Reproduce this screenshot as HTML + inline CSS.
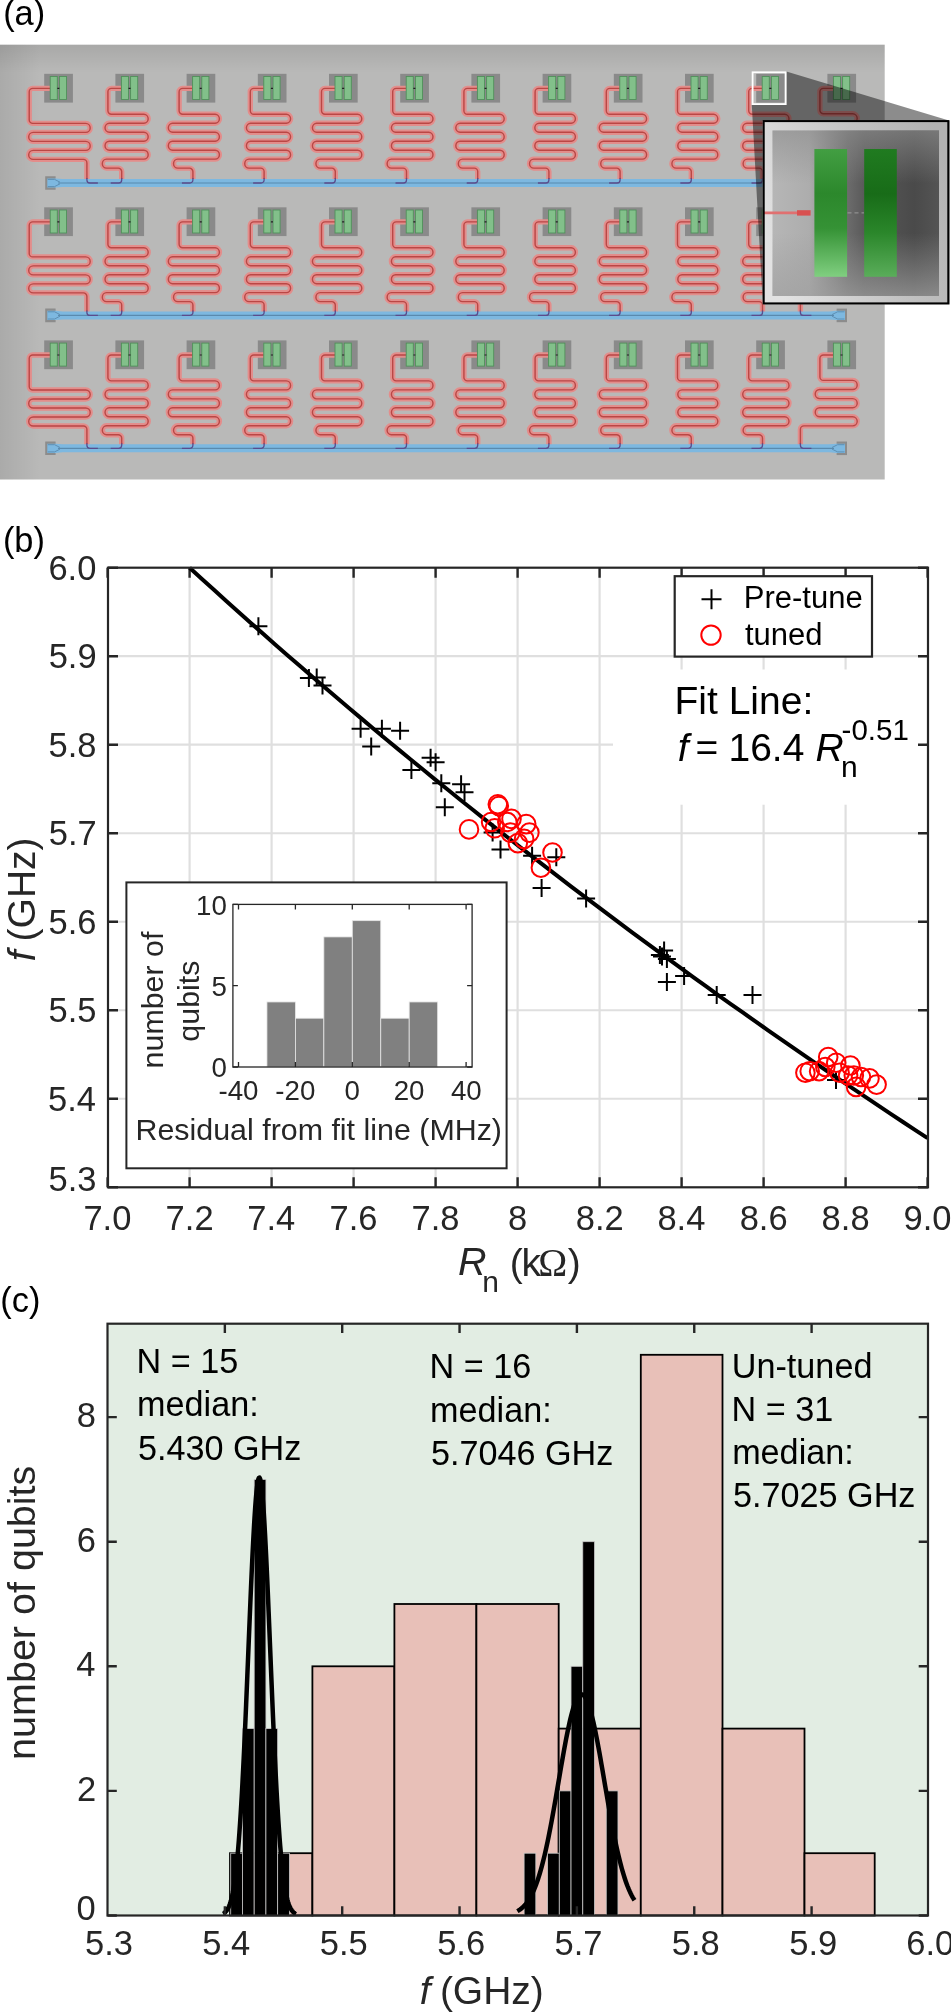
<!DOCTYPE html>
<html><head><meta charset="utf-8"><style>
html,body{margin:0;padding:0;background:#fff;}
svg{display:block;will-change:transform;}
text{font-family:"Liberation Sans", sans-serif;}
</style></head><body>
<svg width="951" height="2012" viewBox="0 0 951 2012">
<defs>
<filter id="soft" x="-2%" y="-2%" width="104%" height="104%"><feGaussianBlur stdDeviation="0.45"/></filter>
<linearGradient id="vtop" x1="0" y1="0" x2="0" y2="1"><stop offset="0" stop-color="#000" stop-opacity="0.09"/><stop offset="1" stop-color="#000" stop-opacity="0"/></linearGradient>
<linearGradient id="vleft" x1="0" y1="0" x2="1" y2="0"><stop offset="0" stop-color="#000" stop-opacity="0.08"/><stop offset="1" stop-color="#000" stop-opacity="0"/></linearGradient>
<linearGradient id="insetbg" x1="0" y1="0" x2="1" y2="0"><stop offset="0" stop-color="#b6b6b6"/><stop offset="0.22" stop-color="#adadad"/><stop offset="0.45" stop-color="#6c6c6c"/><stop offset="0.55" stop-color="#5a5a5a"/><stop offset="0.85" stop-color="#4a4a4a"/><stop offset="1" stop-color="#545454"/></linearGradient>
<linearGradient id="insetv" x1="0" y1="0" x2="0" y2="1"><stop offset="0" stop-color="#8e8e8e" stop-opacity="0.62"/><stop offset="0.32" stop-color="#8e8e8e" stop-opacity="0"/><stop offset="0.62" stop-color="#9a9a9a" stop-opacity="0"/><stop offset="1" stop-color="#a0a0a0" stop-opacity="0.7"/></linearGradient>
<linearGradient id="frame" x1="0" y1="0.6" x2="1" y2="0.3"><stop offset="0" stop-color="#e2e2e2"/><stop offset="0.6" stop-color="#c2c2c2"/><stop offset="1" stop-color="#b2b2b2"/></linearGradient>
<linearGradient id="gl" x1="0" y1="0" x2="0" y2="1"><stop offset="0" stop-color="#429e42"/><stop offset="0.35" stop-color="#2c882c"/><stop offset="0.62" stop-color="#359235"/><stop offset="1" stop-color="#80cf80"/></linearGradient>
<linearGradient id="gr" x1="0" y1="0" x2="0" y2="1"><stop offset="0" stop-color="#207b20"/><stop offset="0.35" stop-color="#186c18"/><stop offset="0.65" stop-color="#2a862a"/><stop offset="1" stop-color="#5aad5a"/></linearGradient>
</defs>
<rect x="0" y="44.7" width="884.7" height="434.8" fill="#b9b9b8"/>
<rect x="0" y="44.7" width="884.7" height="28" fill="url(#vtop)"/>
<rect x="0" y="44.7" width="40" height="434.8" fill="url(#vleft)"/>
<g filter="url(#soft)">
<rect x="44.20" y="73.80" width="28.7" height="28.8" fill="#8a8a8a"/>
<rect x="115.40" y="73.80" width="28.7" height="28.8" fill="#8a8a8a"/>
<rect x="186.60" y="73.80" width="28.7" height="28.8" fill="#8a8a8a"/>
<rect x="257.80" y="73.80" width="28.7" height="28.8" fill="#8a8a8a"/>
<rect x="329.00" y="73.80" width="28.7" height="28.8" fill="#8a8a8a"/>
<rect x="400.20" y="73.80" width="28.7" height="28.8" fill="#8a8a8a"/>
<rect x="471.40" y="73.80" width="28.7" height="28.8" fill="#8a8a8a"/>
<rect x="542.60" y="73.80" width="28.7" height="28.8" fill="#8a8a8a"/>
<rect x="613.80" y="73.80" width="28.7" height="28.8" fill="#8a8a8a"/>
<rect x="685.00" y="73.80" width="28.7" height="28.8" fill="#8a8a8a"/>
<rect x="756.20" y="73.80" width="28.7" height="28.8" fill="#8a8a8a"/>
<rect x="827.40" y="73.80" width="28.7" height="28.8" fill="#8a8a8a"/>
<rect x="44.20" y="207.30" width="28.7" height="28.8" fill="#8a8a8a"/>
<rect x="115.40" y="207.30" width="28.7" height="28.8" fill="#8a8a8a"/>
<rect x="186.60" y="207.30" width="28.7" height="28.8" fill="#8a8a8a"/>
<rect x="257.80" y="207.30" width="28.7" height="28.8" fill="#8a8a8a"/>
<rect x="329.00" y="207.30" width="28.7" height="28.8" fill="#8a8a8a"/>
<rect x="400.20" y="207.30" width="28.7" height="28.8" fill="#8a8a8a"/>
<rect x="471.40" y="207.30" width="28.7" height="28.8" fill="#8a8a8a"/>
<rect x="542.60" y="207.30" width="28.7" height="28.8" fill="#8a8a8a"/>
<rect x="613.80" y="207.30" width="28.7" height="28.8" fill="#8a8a8a"/>
<rect x="685.00" y="207.30" width="28.7" height="28.8" fill="#8a8a8a"/>
<rect x="756.20" y="207.30" width="28.7" height="28.8" fill="#8a8a8a"/>
<rect x="827.40" y="207.30" width="28.7" height="28.8" fill="#8a8a8a"/>
<rect x="44.20" y="340.40" width="28.7" height="28.8" fill="#8a8a8a"/>
<rect x="115.40" y="340.40" width="28.7" height="28.8" fill="#8a8a8a"/>
<rect x="186.60" y="340.40" width="28.7" height="28.8" fill="#8a8a8a"/>
<rect x="257.80" y="340.40" width="28.7" height="28.8" fill="#8a8a8a"/>
<rect x="329.00" y="340.40" width="28.7" height="28.8" fill="#8a8a8a"/>
<rect x="400.20" y="340.40" width="28.7" height="28.8" fill="#8a8a8a"/>
<rect x="471.40" y="340.40" width="28.7" height="28.8" fill="#8a8a8a"/>
<rect x="542.60" y="340.40" width="28.7" height="28.8" fill="#8a8a8a"/>
<rect x="613.80" y="340.40" width="28.7" height="28.8" fill="#8a8a8a"/>
<rect x="685.00" y="340.40" width="28.7" height="28.8" fill="#8a8a8a"/>
<rect x="756.20" y="340.40" width="28.7" height="28.8" fill="#8a8a8a"/>
<rect x="827.40" y="340.40" width="28.7" height="28.8" fill="#8a8a8a"/>
<path d="M50.20 88.40H32.70A3.5 3.5 0 0 0 29.20 91.90V119.90A3.5 3.5 0 0 0 32.70 123.40H85.70A4.50 4.50 0 0 1 85.70 132.40H33.20A4.50 4.50 0 0 0 33.20 141.40H85.70A4.50 4.50 0 0 1 85.70 150.40H33.20A4.50 4.50 0 0 0 33.20 159.40H83.40A3.5 3.5 0 0 1 86.90 162.90V181.00M121.40 88.40H111.40A3.5 3.5 0 0 0 107.90 91.90V110.80A3.5 3.5 0 0 0 111.40 114.30H143.91A4.49 4.49 0 0 1 143.91 123.27H109.29A4.49 4.49 0 0 0 109.29 132.24H143.91A4.49 4.49 0 0 1 143.91 141.21H109.29A4.49 4.49 0 0 0 109.29 150.18H143.91A4.49 4.49 0 0 1 143.91 159.15H106.59A4.49 4.49 0 0 0 106.59 168.12H118.20A3.5 3.5 0 0 1 121.70 171.62V181.00M192.60 88.40H182.60A3.5 3.5 0 0 0 179.10 91.90V110.80A3.5 3.5 0 0 0 182.60 114.30H215.12A4.49 4.49 0 0 1 215.12 123.27H172.59A4.49 4.49 0 0 0 172.59 132.24H215.12A4.49 4.49 0 0 1 215.12 141.21H172.59A4.49 4.49 0 0 0 172.59 150.18H215.12A4.49 4.49 0 0 1 215.12 159.15H177.79A4.49 4.49 0 0 0 177.79 168.12H189.40A3.5 3.5 0 0 1 192.90 171.62V181.00M263.80 88.40H253.80A3.5 3.5 0 0 0 250.30 91.90V110.80A3.5 3.5 0 0 0 253.80 114.30H286.31A4.49 4.49 0 0 1 286.31 123.27H250.69A4.49 4.49 0 0 0 250.69 132.24H286.31A4.49 4.49 0 0 1 286.31 141.21H250.69A4.49 4.49 0 0 0 250.69 150.18H286.31A4.49 4.49 0 0 1 286.31 159.15H248.99A4.49 4.49 0 0 0 248.99 168.12H260.60A3.5 3.5 0 0 1 264.10 171.62V181.00M335.00 88.40H325.00A3.5 3.5 0 0 0 321.50 91.90V110.80A3.5 3.5 0 0 0 325.00 114.30H357.51A4.49 4.49 0 0 1 357.51 123.27H316.69A4.49 4.49 0 0 0 316.69 132.24H357.51A4.49 4.49 0 0 1 357.51 141.21H316.69A4.49 4.49 0 0 0 316.69 150.18H357.51A4.49 4.49 0 0 1 357.51 159.15H320.19A4.49 4.49 0 0 0 320.19 168.12H331.80A3.5 3.5 0 0 1 335.30 171.62V181.00M406.20 88.40H396.20A3.5 3.5 0 0 0 392.70 91.90V110.80A3.5 3.5 0 0 0 396.20 114.30H428.71A4.49 4.49 0 0 1 428.71 123.27H395.69A4.49 4.49 0 0 0 395.69 132.24H428.71A4.49 4.49 0 0 1 428.71 141.21H395.69A4.49 4.49 0 0 0 395.69 150.18H428.71A4.49 4.49 0 0 1 428.71 159.15H391.38A4.49 4.49 0 0 0 391.38 168.12H403.00A3.5 3.5 0 0 1 406.50 171.62V181.00M477.40 88.40H467.40A3.5 3.5 0 0 0 463.90 91.90V110.80A3.5 3.5 0 0 0 467.40 114.30H499.92A4.49 4.49 0 0 1 499.92 123.27H460.09A4.49 4.49 0 0 0 460.09 132.24H499.92A4.49 4.49 0 0 1 499.92 141.21H460.09A4.49 4.49 0 0 0 460.09 150.18H499.92A4.49 4.49 0 0 1 499.92 159.15H462.59A4.49 4.49 0 0 0 462.59 168.12H474.20A3.5 3.5 0 0 1 477.70 171.62V181.00M548.60 88.40H538.60A3.5 3.5 0 0 0 535.10 91.90V110.80A3.5 3.5 0 0 0 538.60 114.30H571.12A4.49 4.49 0 0 1 571.12 123.27H539.09A4.49 4.49 0 0 0 539.09 132.24H571.12A4.49 4.49 0 0 1 571.12 141.21H539.09A4.49 4.49 0 0 0 539.09 150.18H571.12A4.49 4.49 0 0 1 571.12 159.15H533.79A4.49 4.49 0 0 0 533.79 168.12H545.40A3.5 3.5 0 0 1 548.90 171.62V181.00M619.80 88.40H609.80A3.5 3.5 0 0 0 606.30 91.90V110.80A3.5 3.5 0 0 0 609.80 114.30H642.32A4.49 4.49 0 0 1 642.32 123.27H603.59A4.49 4.49 0 0 0 603.59 132.24H642.32A4.49 4.49 0 0 1 642.32 141.21H603.59A4.49 4.49 0 0 0 603.59 150.18H642.32A4.49 4.49 0 0 1 642.32 159.15H604.99A4.49 4.49 0 0 0 604.99 168.12H616.60A3.5 3.5 0 0 1 620.10 171.62V181.00M691.00 88.40H681.00A3.5 3.5 0 0 0 677.50 91.90V110.80A3.5 3.5 0 0 0 681.00 114.30H713.52A4.49 4.49 0 0 1 713.52 123.27H682.09A4.49 4.49 0 0 0 682.09 132.24H713.52A4.49 4.49 0 0 1 713.52 141.21H682.09A4.49 4.49 0 0 0 682.09 150.18H713.52A4.49 4.49 0 0 1 713.52 159.15H676.19A4.49 4.49 0 0 0 676.19 168.12H687.80A3.5 3.5 0 0 1 691.30 171.62V181.00M762.20 88.40H752.20A3.5 3.5 0 0 0 748.70 91.90V110.80A3.5 3.5 0 0 0 752.20 114.30H784.72A4.49 4.49 0 0 1 784.72 123.27H746.99A4.49 4.49 0 0 0 746.99 132.24H784.72A4.49 4.49 0 0 1 784.72 141.21H746.99A4.49 4.49 0 0 0 746.99 150.18H784.72A4.49 4.49 0 0 1 784.72 159.15H747.39A4.49 4.49 0 0 0 747.39 168.12H759.00A3.5 3.5 0 0 1 762.50 171.62V181.00M833.40 88.40H823.40A3.5 3.5 0 0 0 819.90 91.90V110.30A3.5 3.5 0 0 0 823.40 113.80H852.65A4.55 4.55 0 0 1 852.65 122.90H819.75A4.55 4.55 0 0 0 819.75 132.00H852.65A4.55 4.55 0 0 1 852.65 141.10H819.75A4.55 4.55 0 0 0 819.75 150.20H852.65A4.55 4.55 0 0 1 852.65 159.30H803.90A3.5 3.5 0 0 0 800.40 162.80V181.00M50.20 221.90H32.70A3.5 3.5 0 0 0 29.20 225.40V253.40A3.5 3.5 0 0 0 32.70 256.90H85.70A4.50 4.50 0 0 1 85.70 265.90H33.20A4.50 4.50 0 0 0 33.20 274.90H85.70A4.50 4.50 0 0 1 85.70 283.90H33.20A4.50 4.50 0 0 0 33.20 292.90H83.40A3.5 3.5 0 0 1 86.90 296.40V313.40M121.40 221.90H111.40A3.5 3.5 0 0 0 107.90 225.40V244.30A3.5 3.5 0 0 0 111.40 247.80H143.91A4.49 4.49 0 0 1 143.91 256.77H109.29A4.49 4.49 0 0 0 109.29 265.74H143.91A4.49 4.49 0 0 1 143.91 274.71H109.29A4.49 4.49 0 0 0 109.29 283.68H143.91A4.49 4.49 0 0 1 143.91 292.65H106.59A4.49 4.49 0 0 0 106.59 301.62H118.20A3.5 3.5 0 0 1 121.70 305.12V313.40M192.60 221.90H182.60A3.5 3.5 0 0 0 179.10 225.40V244.30A3.5 3.5 0 0 0 182.60 247.80H215.12A4.49 4.49 0 0 1 215.12 256.77H172.59A4.49 4.49 0 0 0 172.59 265.74H215.12A4.49 4.49 0 0 1 215.12 274.71H172.59A4.49 4.49 0 0 0 172.59 283.68H215.12A4.49 4.49 0 0 1 215.12 292.65H177.79A4.49 4.49 0 0 0 177.79 301.62H189.40A3.5 3.5 0 0 1 192.90 305.12V313.40M263.80 221.90H253.80A3.5 3.5 0 0 0 250.30 225.40V244.30A3.5 3.5 0 0 0 253.80 247.80H286.31A4.49 4.49 0 0 1 286.31 256.77H250.69A4.49 4.49 0 0 0 250.69 265.74H286.31A4.49 4.49 0 0 1 286.31 274.71H250.69A4.49 4.49 0 0 0 250.69 283.68H286.31A4.49 4.49 0 0 1 286.31 292.65H248.99A4.49 4.49 0 0 0 248.99 301.62H260.60A3.5 3.5 0 0 1 264.10 305.12V313.40M335.00 221.90H325.00A3.5 3.5 0 0 0 321.50 225.40V244.30A3.5 3.5 0 0 0 325.00 247.80H357.51A4.49 4.49 0 0 1 357.51 256.77H316.69A4.49 4.49 0 0 0 316.69 265.74H357.51A4.49 4.49 0 0 1 357.51 274.71H316.69A4.49 4.49 0 0 0 316.69 283.68H357.51A4.49 4.49 0 0 1 357.51 292.65H320.19A4.49 4.49 0 0 0 320.19 301.62H331.80A3.5 3.5 0 0 1 335.30 305.12V313.40M406.20 221.90H396.20A3.5 3.5 0 0 0 392.70 225.40V244.30A3.5 3.5 0 0 0 396.20 247.80H428.71A4.49 4.49 0 0 1 428.71 256.77H395.69A4.49 4.49 0 0 0 395.69 265.74H428.71A4.49 4.49 0 0 1 428.71 274.71H395.69A4.49 4.49 0 0 0 395.69 283.68H428.71A4.49 4.49 0 0 1 428.71 292.65H391.38A4.49 4.49 0 0 0 391.38 301.62H403.00A3.5 3.5 0 0 1 406.50 305.12V313.40M477.40 221.90H467.40A3.5 3.5 0 0 0 463.90 225.40V244.30A3.5 3.5 0 0 0 467.40 247.80H499.92A4.49 4.49 0 0 1 499.92 256.77H460.09A4.49 4.49 0 0 0 460.09 265.74H499.92A4.49 4.49 0 0 1 499.92 274.71H460.09A4.49 4.49 0 0 0 460.09 283.68H499.92A4.49 4.49 0 0 1 499.92 292.65H462.59A4.49 4.49 0 0 0 462.59 301.62H474.20A3.5 3.5 0 0 1 477.70 305.12V313.40M548.60 221.90H538.60A3.5 3.5 0 0 0 535.10 225.40V244.30A3.5 3.5 0 0 0 538.60 247.80H571.12A4.49 4.49 0 0 1 571.12 256.77H539.09A4.49 4.49 0 0 0 539.09 265.74H571.12A4.49 4.49 0 0 1 571.12 274.71H539.09A4.49 4.49 0 0 0 539.09 283.68H571.12A4.49 4.49 0 0 1 571.12 292.65H533.79A4.49 4.49 0 0 0 533.79 301.62H545.40A3.5 3.5 0 0 1 548.90 305.12V313.40M619.80 221.90H609.80A3.5 3.5 0 0 0 606.30 225.40V244.30A3.5 3.5 0 0 0 609.80 247.80H642.32A4.49 4.49 0 0 1 642.32 256.77H603.59A4.49 4.49 0 0 0 603.59 265.74H642.32A4.49 4.49 0 0 1 642.32 274.71H603.59A4.49 4.49 0 0 0 603.59 283.68H642.32A4.49 4.49 0 0 1 642.32 292.65H604.99A4.49 4.49 0 0 0 604.99 301.62H616.60A3.5 3.5 0 0 1 620.10 305.12V313.40M691.00 221.90H681.00A3.5 3.5 0 0 0 677.50 225.40V244.30A3.5 3.5 0 0 0 681.00 247.80H713.52A4.49 4.49 0 0 1 713.52 256.77H682.09A4.49 4.49 0 0 0 682.09 265.74H713.52A4.49 4.49 0 0 1 713.52 274.71H682.09A4.49 4.49 0 0 0 682.09 283.68H713.52A4.49 4.49 0 0 1 713.52 292.65H676.19A4.49 4.49 0 0 0 676.19 301.62H687.80A3.5 3.5 0 0 1 691.30 305.12V313.40M762.20 221.90H752.20A3.5 3.5 0 0 0 748.70 225.40V244.30A3.5 3.5 0 0 0 752.20 247.80H784.72A4.49 4.49 0 0 1 784.72 256.77H746.99A4.49 4.49 0 0 0 746.99 265.74H784.72A4.49 4.49 0 0 1 784.72 274.71H746.99A4.49 4.49 0 0 0 746.99 283.68H784.72A4.49 4.49 0 0 1 784.72 292.65H747.39A4.49 4.49 0 0 0 747.39 301.62H759.00A3.5 3.5 0 0 1 762.50 305.12V313.40M833.40 221.90H823.40A3.5 3.5 0 0 0 819.90 225.40V243.80A3.5 3.5 0 0 0 823.40 247.30H852.65A4.55 4.55 0 0 1 852.65 256.40H819.75A4.55 4.55 0 0 0 819.75 265.50H852.65A4.55 4.55 0 0 1 852.65 274.60H819.75A4.55 4.55 0 0 0 819.75 283.70H852.65A4.55 4.55 0 0 1 852.65 292.80H803.90A3.5 3.5 0 0 0 800.40 296.30V313.40M50.20 355.00H32.70A3.5 3.5 0 0 0 29.20 358.50V386.50A3.5 3.5 0 0 0 32.70 390.00H85.70A4.50 4.50 0 0 1 85.70 399.00H33.20A4.50 4.50 0 0 0 33.20 408.00H85.70A4.50 4.50 0 0 1 85.70 417.00H33.20A4.50 4.50 0 0 0 33.20 426.00H83.40A3.5 3.5 0 0 1 86.90 429.50V446.30M121.40 355.00H111.40A3.5 3.5 0 0 0 107.90 358.50V377.40A3.5 3.5 0 0 0 111.40 380.90H143.91A4.49 4.49 0 0 1 143.91 389.87H109.29A4.49 4.49 0 0 0 109.29 398.84H143.91A4.49 4.49 0 0 1 143.91 407.81H109.29A4.49 4.49 0 0 0 109.29 416.78H143.91A4.49 4.49 0 0 1 143.91 425.75H106.59A4.49 4.49 0 0 0 106.59 434.72H118.20A3.5 3.5 0 0 1 121.70 438.22V446.30M192.60 355.00H182.60A3.5 3.5 0 0 0 179.10 358.50V377.40A3.5 3.5 0 0 0 182.60 380.90H215.12A4.49 4.49 0 0 1 215.12 389.87H172.59A4.49 4.49 0 0 0 172.59 398.84H215.12A4.49 4.49 0 0 1 215.12 407.81H172.59A4.49 4.49 0 0 0 172.59 416.78H215.12A4.49 4.49 0 0 1 215.12 425.75H177.79A4.49 4.49 0 0 0 177.79 434.72H189.40A3.5 3.5 0 0 1 192.90 438.22V446.30M263.80 355.00H253.80A3.5 3.5 0 0 0 250.30 358.50V377.40A3.5 3.5 0 0 0 253.80 380.90H286.31A4.49 4.49 0 0 1 286.31 389.87H250.69A4.49 4.49 0 0 0 250.69 398.84H286.31A4.49 4.49 0 0 1 286.31 407.81H250.69A4.49 4.49 0 0 0 250.69 416.78H286.31A4.49 4.49 0 0 1 286.31 425.75H248.99A4.49 4.49 0 0 0 248.99 434.72H260.60A3.5 3.5 0 0 1 264.10 438.22V446.30M335.00 355.00H325.00A3.5 3.5 0 0 0 321.50 358.50V377.40A3.5 3.5 0 0 0 325.00 380.90H357.51A4.49 4.49 0 0 1 357.51 389.87H316.69A4.49 4.49 0 0 0 316.69 398.84H357.51A4.49 4.49 0 0 1 357.51 407.81H316.69A4.49 4.49 0 0 0 316.69 416.78H357.51A4.49 4.49 0 0 1 357.51 425.75H320.19A4.49 4.49 0 0 0 320.19 434.72H331.80A3.5 3.5 0 0 1 335.30 438.22V446.30M406.20 355.00H396.20A3.5 3.5 0 0 0 392.70 358.50V377.40A3.5 3.5 0 0 0 396.20 380.90H428.71A4.49 4.49 0 0 1 428.71 389.87H395.69A4.49 4.49 0 0 0 395.69 398.84H428.71A4.49 4.49 0 0 1 428.71 407.81H395.69A4.49 4.49 0 0 0 395.69 416.78H428.71A4.49 4.49 0 0 1 428.71 425.75H391.38A4.49 4.49 0 0 0 391.38 434.72H403.00A3.5 3.5 0 0 1 406.50 438.22V446.30M477.40 355.00H467.40A3.5 3.5 0 0 0 463.90 358.50V377.40A3.5 3.5 0 0 0 467.40 380.90H499.92A4.49 4.49 0 0 1 499.92 389.87H460.09A4.49 4.49 0 0 0 460.09 398.84H499.92A4.49 4.49 0 0 1 499.92 407.81H460.09A4.49 4.49 0 0 0 460.09 416.78H499.92A4.49 4.49 0 0 1 499.92 425.75H462.59A4.49 4.49 0 0 0 462.59 434.72H474.20A3.5 3.5 0 0 1 477.70 438.22V446.30M548.60 355.00H538.60A3.5 3.5 0 0 0 535.10 358.50V377.40A3.5 3.5 0 0 0 538.60 380.90H571.12A4.49 4.49 0 0 1 571.12 389.87H539.09A4.49 4.49 0 0 0 539.09 398.84H571.12A4.49 4.49 0 0 1 571.12 407.81H539.09A4.49 4.49 0 0 0 539.09 416.78H571.12A4.49 4.49 0 0 1 571.12 425.75H533.79A4.49 4.49 0 0 0 533.79 434.72H545.40A3.5 3.5 0 0 1 548.90 438.22V446.30M619.80 355.00H609.80A3.5 3.5 0 0 0 606.30 358.50V377.40A3.5 3.5 0 0 0 609.80 380.90H642.32A4.49 4.49 0 0 1 642.32 389.87H603.59A4.49 4.49 0 0 0 603.59 398.84H642.32A4.49 4.49 0 0 1 642.32 407.81H603.59A4.49 4.49 0 0 0 603.59 416.78H642.32A4.49 4.49 0 0 1 642.32 425.75H604.99A4.49 4.49 0 0 0 604.99 434.72H616.60A3.5 3.5 0 0 1 620.10 438.22V446.30M691.00 355.00H681.00A3.5 3.5 0 0 0 677.50 358.50V377.40A3.5 3.5 0 0 0 681.00 380.90H713.52A4.49 4.49 0 0 1 713.52 389.87H682.09A4.49 4.49 0 0 0 682.09 398.84H713.52A4.49 4.49 0 0 1 713.52 407.81H682.09A4.49 4.49 0 0 0 682.09 416.78H713.52A4.49 4.49 0 0 1 713.52 425.75H676.19A4.49 4.49 0 0 0 676.19 434.72H687.80A3.5 3.5 0 0 1 691.30 438.22V446.30M762.20 355.00H752.20A3.5 3.5 0 0 0 748.70 358.50V377.40A3.5 3.5 0 0 0 752.20 380.90H784.72A4.49 4.49 0 0 1 784.72 389.87H746.99A4.49 4.49 0 0 0 746.99 398.84H784.72A4.49 4.49 0 0 1 784.72 407.81H746.99A4.49 4.49 0 0 0 746.99 416.78H784.72A4.49 4.49 0 0 1 784.72 425.75H747.39A4.49 4.49 0 0 0 747.39 434.72H759.00A3.5 3.5 0 0 1 762.50 438.22V446.30M833.40 355.00H823.40A3.5 3.5 0 0 0 819.90 358.50V376.90A3.5 3.5 0 0 0 823.40 380.40H852.65A4.55 4.55 0 0 1 852.65 389.50H819.75A4.55 4.55 0 0 0 819.75 398.60H852.65A4.55 4.55 0 0 1 852.65 407.70H819.75A4.55 4.55 0 0 0 819.75 416.80H852.65A4.55 4.55 0 0 1 852.65 425.90H803.90A3.5 3.5 0 0 0 800.40 429.40V446.30" stroke="#e38d8b" stroke-width="5.4" fill="none"/>
<path d="M50.20 88.40H32.70A3.5 3.5 0 0 0 29.20 91.90V119.90A3.5 3.5 0 0 0 32.70 123.40H85.70A4.50 4.50 0 0 1 85.70 132.40H33.20A4.50 4.50 0 0 0 33.20 141.40H85.70A4.50 4.50 0 0 1 85.70 150.40H33.20A4.50 4.50 0 0 0 33.20 159.40H83.40A3.5 3.5 0 0 1 86.90 162.90V181.00M121.40 88.40H111.40A3.5 3.5 0 0 0 107.90 91.90V110.80A3.5 3.5 0 0 0 111.40 114.30H143.91A4.49 4.49 0 0 1 143.91 123.27H109.29A4.49 4.49 0 0 0 109.29 132.24H143.91A4.49 4.49 0 0 1 143.91 141.21H109.29A4.49 4.49 0 0 0 109.29 150.18H143.91A4.49 4.49 0 0 1 143.91 159.15H106.59A4.49 4.49 0 0 0 106.59 168.12H118.20A3.5 3.5 0 0 1 121.70 171.62V181.00M192.60 88.40H182.60A3.5 3.5 0 0 0 179.10 91.90V110.80A3.5 3.5 0 0 0 182.60 114.30H215.12A4.49 4.49 0 0 1 215.12 123.27H172.59A4.49 4.49 0 0 0 172.59 132.24H215.12A4.49 4.49 0 0 1 215.12 141.21H172.59A4.49 4.49 0 0 0 172.59 150.18H215.12A4.49 4.49 0 0 1 215.12 159.15H177.79A4.49 4.49 0 0 0 177.79 168.12H189.40A3.5 3.5 0 0 1 192.90 171.62V181.00M263.80 88.40H253.80A3.5 3.5 0 0 0 250.30 91.90V110.80A3.5 3.5 0 0 0 253.80 114.30H286.31A4.49 4.49 0 0 1 286.31 123.27H250.69A4.49 4.49 0 0 0 250.69 132.24H286.31A4.49 4.49 0 0 1 286.31 141.21H250.69A4.49 4.49 0 0 0 250.69 150.18H286.31A4.49 4.49 0 0 1 286.31 159.15H248.99A4.49 4.49 0 0 0 248.99 168.12H260.60A3.5 3.5 0 0 1 264.10 171.62V181.00M335.00 88.40H325.00A3.5 3.5 0 0 0 321.50 91.90V110.80A3.5 3.5 0 0 0 325.00 114.30H357.51A4.49 4.49 0 0 1 357.51 123.27H316.69A4.49 4.49 0 0 0 316.69 132.24H357.51A4.49 4.49 0 0 1 357.51 141.21H316.69A4.49 4.49 0 0 0 316.69 150.18H357.51A4.49 4.49 0 0 1 357.51 159.15H320.19A4.49 4.49 0 0 0 320.19 168.12H331.80A3.5 3.5 0 0 1 335.30 171.62V181.00M406.20 88.40H396.20A3.5 3.5 0 0 0 392.70 91.90V110.80A3.5 3.5 0 0 0 396.20 114.30H428.71A4.49 4.49 0 0 1 428.71 123.27H395.69A4.49 4.49 0 0 0 395.69 132.24H428.71A4.49 4.49 0 0 1 428.71 141.21H395.69A4.49 4.49 0 0 0 395.69 150.18H428.71A4.49 4.49 0 0 1 428.71 159.15H391.38A4.49 4.49 0 0 0 391.38 168.12H403.00A3.5 3.5 0 0 1 406.50 171.62V181.00M477.40 88.40H467.40A3.5 3.5 0 0 0 463.90 91.90V110.80A3.5 3.5 0 0 0 467.40 114.30H499.92A4.49 4.49 0 0 1 499.92 123.27H460.09A4.49 4.49 0 0 0 460.09 132.24H499.92A4.49 4.49 0 0 1 499.92 141.21H460.09A4.49 4.49 0 0 0 460.09 150.18H499.92A4.49 4.49 0 0 1 499.92 159.15H462.59A4.49 4.49 0 0 0 462.59 168.12H474.20A3.5 3.5 0 0 1 477.70 171.62V181.00M548.60 88.40H538.60A3.5 3.5 0 0 0 535.10 91.90V110.80A3.5 3.5 0 0 0 538.60 114.30H571.12A4.49 4.49 0 0 1 571.12 123.27H539.09A4.49 4.49 0 0 0 539.09 132.24H571.12A4.49 4.49 0 0 1 571.12 141.21H539.09A4.49 4.49 0 0 0 539.09 150.18H571.12A4.49 4.49 0 0 1 571.12 159.15H533.79A4.49 4.49 0 0 0 533.79 168.12H545.40A3.5 3.5 0 0 1 548.90 171.62V181.00M619.80 88.40H609.80A3.5 3.5 0 0 0 606.30 91.90V110.80A3.5 3.5 0 0 0 609.80 114.30H642.32A4.49 4.49 0 0 1 642.32 123.27H603.59A4.49 4.49 0 0 0 603.59 132.24H642.32A4.49 4.49 0 0 1 642.32 141.21H603.59A4.49 4.49 0 0 0 603.59 150.18H642.32A4.49 4.49 0 0 1 642.32 159.15H604.99A4.49 4.49 0 0 0 604.99 168.12H616.60A3.5 3.5 0 0 1 620.10 171.62V181.00M691.00 88.40H681.00A3.5 3.5 0 0 0 677.50 91.90V110.80A3.5 3.5 0 0 0 681.00 114.30H713.52A4.49 4.49 0 0 1 713.52 123.27H682.09A4.49 4.49 0 0 0 682.09 132.24H713.52A4.49 4.49 0 0 1 713.52 141.21H682.09A4.49 4.49 0 0 0 682.09 150.18H713.52A4.49 4.49 0 0 1 713.52 159.15H676.19A4.49 4.49 0 0 0 676.19 168.12H687.80A3.5 3.5 0 0 1 691.30 171.62V181.00M762.20 88.40H752.20A3.5 3.5 0 0 0 748.70 91.90V110.80A3.5 3.5 0 0 0 752.20 114.30H784.72A4.49 4.49 0 0 1 784.72 123.27H746.99A4.49 4.49 0 0 0 746.99 132.24H784.72A4.49 4.49 0 0 1 784.72 141.21H746.99A4.49 4.49 0 0 0 746.99 150.18H784.72A4.49 4.49 0 0 1 784.72 159.15H747.39A4.49 4.49 0 0 0 747.39 168.12H759.00A3.5 3.5 0 0 1 762.50 171.62V181.00M833.40 88.40H823.40A3.5 3.5 0 0 0 819.90 91.90V110.30A3.5 3.5 0 0 0 823.40 113.80H852.65A4.55 4.55 0 0 1 852.65 122.90H819.75A4.55 4.55 0 0 0 819.75 132.00H852.65A4.55 4.55 0 0 1 852.65 141.10H819.75A4.55 4.55 0 0 0 819.75 150.20H852.65A4.55 4.55 0 0 1 852.65 159.30H803.90A3.5 3.5 0 0 0 800.40 162.80V181.00M50.20 221.90H32.70A3.5 3.5 0 0 0 29.20 225.40V253.40A3.5 3.5 0 0 0 32.70 256.90H85.70A4.50 4.50 0 0 1 85.70 265.90H33.20A4.50 4.50 0 0 0 33.20 274.90H85.70A4.50 4.50 0 0 1 85.70 283.90H33.20A4.50 4.50 0 0 0 33.20 292.90H83.40A3.5 3.5 0 0 1 86.90 296.40V313.40M121.40 221.90H111.40A3.5 3.5 0 0 0 107.90 225.40V244.30A3.5 3.5 0 0 0 111.40 247.80H143.91A4.49 4.49 0 0 1 143.91 256.77H109.29A4.49 4.49 0 0 0 109.29 265.74H143.91A4.49 4.49 0 0 1 143.91 274.71H109.29A4.49 4.49 0 0 0 109.29 283.68H143.91A4.49 4.49 0 0 1 143.91 292.65H106.59A4.49 4.49 0 0 0 106.59 301.62H118.20A3.5 3.5 0 0 1 121.70 305.12V313.40M192.60 221.90H182.60A3.5 3.5 0 0 0 179.10 225.40V244.30A3.5 3.5 0 0 0 182.60 247.80H215.12A4.49 4.49 0 0 1 215.12 256.77H172.59A4.49 4.49 0 0 0 172.59 265.74H215.12A4.49 4.49 0 0 1 215.12 274.71H172.59A4.49 4.49 0 0 0 172.59 283.68H215.12A4.49 4.49 0 0 1 215.12 292.65H177.79A4.49 4.49 0 0 0 177.79 301.62H189.40A3.5 3.5 0 0 1 192.90 305.12V313.40M263.80 221.90H253.80A3.5 3.5 0 0 0 250.30 225.40V244.30A3.5 3.5 0 0 0 253.80 247.80H286.31A4.49 4.49 0 0 1 286.31 256.77H250.69A4.49 4.49 0 0 0 250.69 265.74H286.31A4.49 4.49 0 0 1 286.31 274.71H250.69A4.49 4.49 0 0 0 250.69 283.68H286.31A4.49 4.49 0 0 1 286.31 292.65H248.99A4.49 4.49 0 0 0 248.99 301.62H260.60A3.5 3.5 0 0 1 264.10 305.12V313.40M335.00 221.90H325.00A3.5 3.5 0 0 0 321.50 225.40V244.30A3.5 3.5 0 0 0 325.00 247.80H357.51A4.49 4.49 0 0 1 357.51 256.77H316.69A4.49 4.49 0 0 0 316.69 265.74H357.51A4.49 4.49 0 0 1 357.51 274.71H316.69A4.49 4.49 0 0 0 316.69 283.68H357.51A4.49 4.49 0 0 1 357.51 292.65H320.19A4.49 4.49 0 0 0 320.19 301.62H331.80A3.5 3.5 0 0 1 335.30 305.12V313.40M406.20 221.90H396.20A3.5 3.5 0 0 0 392.70 225.40V244.30A3.5 3.5 0 0 0 396.20 247.80H428.71A4.49 4.49 0 0 1 428.71 256.77H395.69A4.49 4.49 0 0 0 395.69 265.74H428.71A4.49 4.49 0 0 1 428.71 274.71H395.69A4.49 4.49 0 0 0 395.69 283.68H428.71A4.49 4.49 0 0 1 428.71 292.65H391.38A4.49 4.49 0 0 0 391.38 301.62H403.00A3.5 3.5 0 0 1 406.50 305.12V313.40M477.40 221.90H467.40A3.5 3.5 0 0 0 463.90 225.40V244.30A3.5 3.5 0 0 0 467.40 247.80H499.92A4.49 4.49 0 0 1 499.92 256.77H460.09A4.49 4.49 0 0 0 460.09 265.74H499.92A4.49 4.49 0 0 1 499.92 274.71H460.09A4.49 4.49 0 0 0 460.09 283.68H499.92A4.49 4.49 0 0 1 499.92 292.65H462.59A4.49 4.49 0 0 0 462.59 301.62H474.20A3.5 3.5 0 0 1 477.70 305.12V313.40M548.60 221.90H538.60A3.5 3.5 0 0 0 535.10 225.40V244.30A3.5 3.5 0 0 0 538.60 247.80H571.12A4.49 4.49 0 0 1 571.12 256.77H539.09A4.49 4.49 0 0 0 539.09 265.74H571.12A4.49 4.49 0 0 1 571.12 274.71H539.09A4.49 4.49 0 0 0 539.09 283.68H571.12A4.49 4.49 0 0 1 571.12 292.65H533.79A4.49 4.49 0 0 0 533.79 301.62H545.40A3.5 3.5 0 0 1 548.90 305.12V313.40M619.80 221.90H609.80A3.5 3.5 0 0 0 606.30 225.40V244.30A3.5 3.5 0 0 0 609.80 247.80H642.32A4.49 4.49 0 0 1 642.32 256.77H603.59A4.49 4.49 0 0 0 603.59 265.74H642.32A4.49 4.49 0 0 1 642.32 274.71H603.59A4.49 4.49 0 0 0 603.59 283.68H642.32A4.49 4.49 0 0 1 642.32 292.65H604.99A4.49 4.49 0 0 0 604.99 301.62H616.60A3.5 3.5 0 0 1 620.10 305.12V313.40M691.00 221.90H681.00A3.5 3.5 0 0 0 677.50 225.40V244.30A3.5 3.5 0 0 0 681.00 247.80H713.52A4.49 4.49 0 0 1 713.52 256.77H682.09A4.49 4.49 0 0 0 682.09 265.74H713.52A4.49 4.49 0 0 1 713.52 274.71H682.09A4.49 4.49 0 0 0 682.09 283.68H713.52A4.49 4.49 0 0 1 713.52 292.65H676.19A4.49 4.49 0 0 0 676.19 301.62H687.80A3.5 3.5 0 0 1 691.30 305.12V313.40M762.20 221.90H752.20A3.5 3.5 0 0 0 748.70 225.40V244.30A3.5 3.5 0 0 0 752.20 247.80H784.72A4.49 4.49 0 0 1 784.72 256.77H746.99A4.49 4.49 0 0 0 746.99 265.74H784.72A4.49 4.49 0 0 1 784.72 274.71H746.99A4.49 4.49 0 0 0 746.99 283.68H784.72A4.49 4.49 0 0 1 784.72 292.65H747.39A4.49 4.49 0 0 0 747.39 301.62H759.00A3.5 3.5 0 0 1 762.50 305.12V313.40M833.40 221.90H823.40A3.5 3.5 0 0 0 819.90 225.40V243.80A3.5 3.5 0 0 0 823.40 247.30H852.65A4.55 4.55 0 0 1 852.65 256.40H819.75A4.55 4.55 0 0 0 819.75 265.50H852.65A4.55 4.55 0 0 1 852.65 274.60H819.75A4.55 4.55 0 0 0 819.75 283.70H852.65A4.55 4.55 0 0 1 852.65 292.80H803.90A3.5 3.5 0 0 0 800.40 296.30V313.40M50.20 355.00H32.70A3.5 3.5 0 0 0 29.20 358.50V386.50A3.5 3.5 0 0 0 32.70 390.00H85.70A4.50 4.50 0 0 1 85.70 399.00H33.20A4.50 4.50 0 0 0 33.20 408.00H85.70A4.50 4.50 0 0 1 85.70 417.00H33.20A4.50 4.50 0 0 0 33.20 426.00H83.40A3.5 3.5 0 0 1 86.90 429.50V446.30M121.40 355.00H111.40A3.5 3.5 0 0 0 107.90 358.50V377.40A3.5 3.5 0 0 0 111.40 380.90H143.91A4.49 4.49 0 0 1 143.91 389.87H109.29A4.49 4.49 0 0 0 109.29 398.84H143.91A4.49 4.49 0 0 1 143.91 407.81H109.29A4.49 4.49 0 0 0 109.29 416.78H143.91A4.49 4.49 0 0 1 143.91 425.75H106.59A4.49 4.49 0 0 0 106.59 434.72H118.20A3.5 3.5 0 0 1 121.70 438.22V446.30M192.60 355.00H182.60A3.5 3.5 0 0 0 179.10 358.50V377.40A3.5 3.5 0 0 0 182.60 380.90H215.12A4.49 4.49 0 0 1 215.12 389.87H172.59A4.49 4.49 0 0 0 172.59 398.84H215.12A4.49 4.49 0 0 1 215.12 407.81H172.59A4.49 4.49 0 0 0 172.59 416.78H215.12A4.49 4.49 0 0 1 215.12 425.75H177.79A4.49 4.49 0 0 0 177.79 434.72H189.40A3.5 3.5 0 0 1 192.90 438.22V446.30M263.80 355.00H253.80A3.5 3.5 0 0 0 250.30 358.50V377.40A3.5 3.5 0 0 0 253.80 380.90H286.31A4.49 4.49 0 0 1 286.31 389.87H250.69A4.49 4.49 0 0 0 250.69 398.84H286.31A4.49 4.49 0 0 1 286.31 407.81H250.69A4.49 4.49 0 0 0 250.69 416.78H286.31A4.49 4.49 0 0 1 286.31 425.75H248.99A4.49 4.49 0 0 0 248.99 434.72H260.60A3.5 3.5 0 0 1 264.10 438.22V446.30M335.00 355.00H325.00A3.5 3.5 0 0 0 321.50 358.50V377.40A3.5 3.5 0 0 0 325.00 380.90H357.51A4.49 4.49 0 0 1 357.51 389.87H316.69A4.49 4.49 0 0 0 316.69 398.84H357.51A4.49 4.49 0 0 1 357.51 407.81H316.69A4.49 4.49 0 0 0 316.69 416.78H357.51A4.49 4.49 0 0 1 357.51 425.75H320.19A4.49 4.49 0 0 0 320.19 434.72H331.80A3.5 3.5 0 0 1 335.30 438.22V446.30M406.20 355.00H396.20A3.5 3.5 0 0 0 392.70 358.50V377.40A3.5 3.5 0 0 0 396.20 380.90H428.71A4.49 4.49 0 0 1 428.71 389.87H395.69A4.49 4.49 0 0 0 395.69 398.84H428.71A4.49 4.49 0 0 1 428.71 407.81H395.69A4.49 4.49 0 0 0 395.69 416.78H428.71A4.49 4.49 0 0 1 428.71 425.75H391.38A4.49 4.49 0 0 0 391.38 434.72H403.00A3.5 3.5 0 0 1 406.50 438.22V446.30M477.40 355.00H467.40A3.5 3.5 0 0 0 463.90 358.50V377.40A3.5 3.5 0 0 0 467.40 380.90H499.92A4.49 4.49 0 0 1 499.92 389.87H460.09A4.49 4.49 0 0 0 460.09 398.84H499.92A4.49 4.49 0 0 1 499.92 407.81H460.09A4.49 4.49 0 0 0 460.09 416.78H499.92A4.49 4.49 0 0 1 499.92 425.75H462.59A4.49 4.49 0 0 0 462.59 434.72H474.20A3.5 3.5 0 0 1 477.70 438.22V446.30M548.60 355.00H538.60A3.5 3.5 0 0 0 535.10 358.50V377.40A3.5 3.5 0 0 0 538.60 380.90H571.12A4.49 4.49 0 0 1 571.12 389.87H539.09A4.49 4.49 0 0 0 539.09 398.84H571.12A4.49 4.49 0 0 1 571.12 407.81H539.09A4.49 4.49 0 0 0 539.09 416.78H571.12A4.49 4.49 0 0 1 571.12 425.75H533.79A4.49 4.49 0 0 0 533.79 434.72H545.40A3.5 3.5 0 0 1 548.90 438.22V446.30M619.80 355.00H609.80A3.5 3.5 0 0 0 606.30 358.50V377.40A3.5 3.5 0 0 0 609.80 380.90H642.32A4.49 4.49 0 0 1 642.32 389.87H603.59A4.49 4.49 0 0 0 603.59 398.84H642.32A4.49 4.49 0 0 1 642.32 407.81H603.59A4.49 4.49 0 0 0 603.59 416.78H642.32A4.49 4.49 0 0 1 642.32 425.75H604.99A4.49 4.49 0 0 0 604.99 434.72H616.60A3.5 3.5 0 0 1 620.10 438.22V446.30M691.00 355.00H681.00A3.5 3.5 0 0 0 677.50 358.50V377.40A3.5 3.5 0 0 0 681.00 380.90H713.52A4.49 4.49 0 0 1 713.52 389.87H682.09A4.49 4.49 0 0 0 682.09 398.84H713.52A4.49 4.49 0 0 1 713.52 407.81H682.09A4.49 4.49 0 0 0 682.09 416.78H713.52A4.49 4.49 0 0 1 713.52 425.75H676.19A4.49 4.49 0 0 0 676.19 434.72H687.80A3.5 3.5 0 0 1 691.30 438.22V446.30M762.20 355.00H752.20A3.5 3.5 0 0 0 748.70 358.50V377.40A3.5 3.5 0 0 0 752.20 380.90H784.72A4.49 4.49 0 0 1 784.72 389.87H746.99A4.49 4.49 0 0 0 746.99 398.84H784.72A4.49 4.49 0 0 1 784.72 407.81H746.99A4.49 4.49 0 0 0 746.99 416.78H784.72A4.49 4.49 0 0 1 784.72 425.75H747.39A4.49 4.49 0 0 0 747.39 434.72H759.00A3.5 3.5 0 0 1 762.50 438.22V446.30M833.40 355.00H823.40A3.5 3.5 0 0 0 819.90 358.50V376.90A3.5 3.5 0 0 0 823.40 380.40H852.65A4.55 4.55 0 0 1 852.65 389.50H819.75A4.55 4.55 0 0 0 819.75 398.60H852.65A4.55 4.55 0 0 1 852.65 407.70H819.75A4.55 4.55 0 0 0 819.75 416.80H852.65A4.55 4.55 0 0 1 852.65 425.90H803.90A3.5 3.5 0 0 0 800.40 429.40V446.30" stroke="#b53e3d" stroke-width="1.4" fill="none" opacity="0.9"/>
<path d="M45.2 176.2h10.4v13.6h-10.4z" fill="#8c8c8c"/>
<path d="M836.6 176.2h10.4v13.6h-10.4z" fill="#8c8c8c"/>
<path d="M47.3 178.4H55.6L62.7 179.0H829L836.6 178.4H845V187.6H836.6L829 187.0H62.7L55.6 187.6H47.3Z" fill="#7db8e0"/>
<path d="M47.8 179.4H54.6L60 182.2M47.8 186.6H54.6L60 183.8M844.5 179.4H837.6L832 182.2M844.5 186.6H837.6L832 183.8" stroke="#5a8aae" stroke-width="0.9" fill="none"/>
<path d="M58 183.0H834" stroke="#5a8aae" stroke-width="1.2" fill="none"/>
<path d="M45.2 308.6h10.4v13.6h-10.4z" fill="#8c8c8c"/>
<path d="M836.6 308.6h10.4v13.6h-10.4z" fill="#8c8c8c"/>
<path d="M47.3 310.8H55.6L62.7 311.4H829L836.6 310.8H845V320.0H836.6L829 319.4H62.7L55.6 320.0H47.3Z" fill="#7db8e0"/>
<path d="M47.8 311.8H54.6L60 314.6M47.8 319.0H54.6L60 316.2M844.5 311.8H837.6L832 314.6M844.5 319.0H837.6L832 316.2" stroke="#5a8aae" stroke-width="0.9" fill="none"/>
<path d="M58 315.4H834" stroke="#5a8aae" stroke-width="1.2" fill="none"/>
<path d="M45.2 441.5h10.4v13.6h-10.4z" fill="#8c8c8c"/>
<path d="M836.6 441.5h10.4v13.6h-10.4z" fill="#8c8c8c"/>
<path d="M47.3 443.7H55.6L62.7 444.3H829L836.6 443.7H845V452.9H836.6L829 452.3H62.7L55.6 452.9H47.3Z" fill="#7db8e0"/>
<path d="M47.8 444.7H54.6L60 447.5M47.8 451.9H54.6L60 449.1M844.5 444.7H837.6L832 447.5M844.5 451.9H837.6L832 449.1" stroke="#5a8aae" stroke-width="0.9" fill="none"/>
<path d="M58 448.3H834" stroke="#5a8aae" stroke-width="1.2" fill="none"/>
<path d="M86.90 178.00V180.00A3 3 0 0 0 89.90 183.00H97.90M121.70 178.00V180.00A3 3 0 0 1 118.70 183.00H110.70M192.90 178.00V180.00A3 3 0 0 1 189.90 183.00H181.90M264.10 178.00V180.00A3 3 0 0 1 261.10 183.00H253.10M335.30 178.00V180.00A3 3 0 0 1 332.30 183.00H324.30M406.50 178.00V180.00A3 3 0 0 1 403.50 183.00H395.50M477.70 178.00V180.00A3 3 0 0 1 474.70 183.00H466.70M548.90 178.00V180.00A3 3 0 0 1 545.90 183.00H537.90M620.10 178.00V180.00A3 3 0 0 1 617.10 183.00H609.10M691.30 178.00V180.00A3 3 0 0 1 688.30 183.00H680.30M762.50 178.00V180.00A3 3 0 0 1 759.50 183.00H751.50M800.40 178.00V180.00A3 3 0 0 0 803.40 183.00H811.40M86.90 310.40V312.40A3 3 0 0 0 89.90 315.40H97.90M121.70 310.40V312.40A3 3 0 0 1 118.70 315.40H110.70M192.90 310.40V312.40A3 3 0 0 1 189.90 315.40H181.90M264.10 310.40V312.40A3 3 0 0 1 261.10 315.40H253.10M335.30 310.40V312.40A3 3 0 0 1 332.30 315.40H324.30M406.50 310.40V312.40A3 3 0 0 1 403.50 315.40H395.50M477.70 310.40V312.40A3 3 0 0 1 474.70 315.40H466.70M548.90 310.40V312.40A3 3 0 0 1 545.90 315.40H537.90M620.10 310.40V312.40A3 3 0 0 1 617.10 315.40H609.10M691.30 310.40V312.40A3 3 0 0 1 688.30 315.40H680.30M762.50 310.40V312.40A3 3 0 0 1 759.50 315.40H751.50M800.40 310.40V312.40A3 3 0 0 0 803.40 315.40H811.40M86.90 443.30V445.30A3 3 0 0 0 89.90 448.30H97.90M121.70 443.30V445.30A3 3 0 0 1 118.70 448.30H110.70M192.90 443.30V445.30A3 3 0 0 1 189.90 448.30H181.90M264.10 443.30V445.30A3 3 0 0 1 261.10 448.30H253.10M335.30 443.30V445.30A3 3 0 0 1 332.30 448.30H324.30M406.50 443.30V445.30A3 3 0 0 1 403.50 448.30H395.50M477.70 443.30V445.30A3 3 0 0 1 474.70 448.30H466.70M548.90 443.30V445.30A3 3 0 0 1 545.90 448.30H537.90M620.10 443.30V445.30A3 3 0 0 1 617.10 448.30H609.10M691.30 443.30V445.30A3 3 0 0 1 688.30 448.30H680.30M762.50 443.30V445.30A3 3 0 0 1 759.50 448.30H751.50M800.40 443.30V445.30A3 3 0 0 0 803.40 448.30H811.40" stroke="#5b4c8c" stroke-width="1.3" fill="none"/>
<rect x="50.20" y="76.50" width="7.1" height="23" fill="#82c08a" stroke="#50905a" stroke-width="0.9"/>
<rect x="59.40" y="76.50" width="7.1" height="23" fill="#82c08a" stroke="#50905a" stroke-width="0.9"/>
<rect x="121.40" y="76.50" width="7.1" height="23" fill="#82c08a" stroke="#50905a" stroke-width="0.9"/>
<rect x="130.60" y="76.50" width="7.1" height="23" fill="#82c08a" stroke="#50905a" stroke-width="0.9"/>
<rect x="192.60" y="76.50" width="7.1" height="23" fill="#82c08a" stroke="#50905a" stroke-width="0.9"/>
<rect x="201.80" y="76.50" width="7.1" height="23" fill="#82c08a" stroke="#50905a" stroke-width="0.9"/>
<rect x="263.80" y="76.50" width="7.1" height="23" fill="#82c08a" stroke="#50905a" stroke-width="0.9"/>
<rect x="273.00" y="76.50" width="7.1" height="23" fill="#82c08a" stroke="#50905a" stroke-width="0.9"/>
<rect x="335.00" y="76.50" width="7.1" height="23" fill="#82c08a" stroke="#50905a" stroke-width="0.9"/>
<rect x="344.20" y="76.50" width="7.1" height="23" fill="#82c08a" stroke="#50905a" stroke-width="0.9"/>
<rect x="406.20" y="76.50" width="7.1" height="23" fill="#82c08a" stroke="#50905a" stroke-width="0.9"/>
<rect x="415.40" y="76.50" width="7.1" height="23" fill="#82c08a" stroke="#50905a" stroke-width="0.9"/>
<rect x="477.40" y="76.50" width="7.1" height="23" fill="#82c08a" stroke="#50905a" stroke-width="0.9"/>
<rect x="486.60" y="76.50" width="7.1" height="23" fill="#82c08a" stroke="#50905a" stroke-width="0.9"/>
<rect x="548.60" y="76.50" width="7.1" height="23" fill="#82c08a" stroke="#50905a" stroke-width="0.9"/>
<rect x="557.80" y="76.50" width="7.1" height="23" fill="#82c08a" stroke="#50905a" stroke-width="0.9"/>
<rect x="619.80" y="76.50" width="7.1" height="23" fill="#82c08a" stroke="#50905a" stroke-width="0.9"/>
<rect x="629.00" y="76.50" width="7.1" height="23" fill="#82c08a" stroke="#50905a" stroke-width="0.9"/>
<rect x="691.00" y="76.50" width="7.1" height="23" fill="#82c08a" stroke="#50905a" stroke-width="0.9"/>
<rect x="700.20" y="76.50" width="7.1" height="23" fill="#82c08a" stroke="#50905a" stroke-width="0.9"/>
<rect x="762.20" y="76.50" width="7.1" height="23" fill="#82c08a" stroke="#50905a" stroke-width="0.9"/>
<rect x="771.40" y="76.50" width="7.1" height="23" fill="#82c08a" stroke="#50905a" stroke-width="0.9"/>
<rect x="833.40" y="76.50" width="7.1" height="23" fill="#82c08a" stroke="#50905a" stroke-width="0.9"/>
<rect x="842.60" y="76.50" width="7.1" height="23" fill="#82c08a" stroke="#50905a" stroke-width="0.9"/>
<rect x="50.20" y="210.00" width="7.1" height="23" fill="#82c08a" stroke="#50905a" stroke-width="0.9"/>
<rect x="59.40" y="210.00" width="7.1" height="23" fill="#82c08a" stroke="#50905a" stroke-width="0.9"/>
<rect x="121.40" y="210.00" width="7.1" height="23" fill="#82c08a" stroke="#50905a" stroke-width="0.9"/>
<rect x="130.60" y="210.00" width="7.1" height="23" fill="#82c08a" stroke="#50905a" stroke-width="0.9"/>
<rect x="192.60" y="210.00" width="7.1" height="23" fill="#82c08a" stroke="#50905a" stroke-width="0.9"/>
<rect x="201.80" y="210.00" width="7.1" height="23" fill="#82c08a" stroke="#50905a" stroke-width="0.9"/>
<rect x="263.80" y="210.00" width="7.1" height="23" fill="#82c08a" stroke="#50905a" stroke-width="0.9"/>
<rect x="273.00" y="210.00" width="7.1" height="23" fill="#82c08a" stroke="#50905a" stroke-width="0.9"/>
<rect x="335.00" y="210.00" width="7.1" height="23" fill="#82c08a" stroke="#50905a" stroke-width="0.9"/>
<rect x="344.20" y="210.00" width="7.1" height="23" fill="#82c08a" stroke="#50905a" stroke-width="0.9"/>
<rect x="406.20" y="210.00" width="7.1" height="23" fill="#82c08a" stroke="#50905a" stroke-width="0.9"/>
<rect x="415.40" y="210.00" width="7.1" height="23" fill="#82c08a" stroke="#50905a" stroke-width="0.9"/>
<rect x="477.40" y="210.00" width="7.1" height="23" fill="#82c08a" stroke="#50905a" stroke-width="0.9"/>
<rect x="486.60" y="210.00" width="7.1" height="23" fill="#82c08a" stroke="#50905a" stroke-width="0.9"/>
<rect x="548.60" y="210.00" width="7.1" height="23" fill="#82c08a" stroke="#50905a" stroke-width="0.9"/>
<rect x="557.80" y="210.00" width="7.1" height="23" fill="#82c08a" stroke="#50905a" stroke-width="0.9"/>
<rect x="619.80" y="210.00" width="7.1" height="23" fill="#82c08a" stroke="#50905a" stroke-width="0.9"/>
<rect x="629.00" y="210.00" width="7.1" height="23" fill="#82c08a" stroke="#50905a" stroke-width="0.9"/>
<rect x="691.00" y="210.00" width="7.1" height="23" fill="#82c08a" stroke="#50905a" stroke-width="0.9"/>
<rect x="700.20" y="210.00" width="7.1" height="23" fill="#82c08a" stroke="#50905a" stroke-width="0.9"/>
<rect x="762.20" y="210.00" width="7.1" height="23" fill="#82c08a" stroke="#50905a" stroke-width="0.9"/>
<rect x="771.40" y="210.00" width="7.1" height="23" fill="#82c08a" stroke="#50905a" stroke-width="0.9"/>
<rect x="833.40" y="210.00" width="7.1" height="23" fill="#82c08a" stroke="#50905a" stroke-width="0.9"/>
<rect x="842.60" y="210.00" width="7.1" height="23" fill="#82c08a" stroke="#50905a" stroke-width="0.9"/>
<rect x="50.20" y="343.10" width="7.1" height="23" fill="#82c08a" stroke="#50905a" stroke-width="0.9"/>
<rect x="59.40" y="343.10" width="7.1" height="23" fill="#82c08a" stroke="#50905a" stroke-width="0.9"/>
<rect x="121.40" y="343.10" width="7.1" height="23" fill="#82c08a" stroke="#50905a" stroke-width="0.9"/>
<rect x="130.60" y="343.10" width="7.1" height="23" fill="#82c08a" stroke="#50905a" stroke-width="0.9"/>
<rect x="192.60" y="343.10" width="7.1" height="23" fill="#82c08a" stroke="#50905a" stroke-width="0.9"/>
<rect x="201.80" y="343.10" width="7.1" height="23" fill="#82c08a" stroke="#50905a" stroke-width="0.9"/>
<rect x="263.80" y="343.10" width="7.1" height="23" fill="#82c08a" stroke="#50905a" stroke-width="0.9"/>
<rect x="273.00" y="343.10" width="7.1" height="23" fill="#82c08a" stroke="#50905a" stroke-width="0.9"/>
<rect x="335.00" y="343.10" width="7.1" height="23" fill="#82c08a" stroke="#50905a" stroke-width="0.9"/>
<rect x="344.20" y="343.10" width="7.1" height="23" fill="#82c08a" stroke="#50905a" stroke-width="0.9"/>
<rect x="406.20" y="343.10" width="7.1" height="23" fill="#82c08a" stroke="#50905a" stroke-width="0.9"/>
<rect x="415.40" y="343.10" width="7.1" height="23" fill="#82c08a" stroke="#50905a" stroke-width="0.9"/>
<rect x="477.40" y="343.10" width="7.1" height="23" fill="#82c08a" stroke="#50905a" stroke-width="0.9"/>
<rect x="486.60" y="343.10" width="7.1" height="23" fill="#82c08a" stroke="#50905a" stroke-width="0.9"/>
<rect x="548.60" y="343.10" width="7.1" height="23" fill="#82c08a" stroke="#50905a" stroke-width="0.9"/>
<rect x="557.80" y="343.10" width="7.1" height="23" fill="#82c08a" stroke="#50905a" stroke-width="0.9"/>
<rect x="619.80" y="343.10" width="7.1" height="23" fill="#82c08a" stroke="#50905a" stroke-width="0.9"/>
<rect x="629.00" y="343.10" width="7.1" height="23" fill="#82c08a" stroke="#50905a" stroke-width="0.9"/>
<rect x="691.00" y="343.10" width="7.1" height="23" fill="#82c08a" stroke="#50905a" stroke-width="0.9"/>
<rect x="700.20" y="343.10" width="7.1" height="23" fill="#82c08a" stroke="#50905a" stroke-width="0.9"/>
<rect x="762.20" y="343.10" width="7.1" height="23" fill="#82c08a" stroke="#50905a" stroke-width="0.9"/>
<rect x="771.40" y="343.10" width="7.1" height="23" fill="#82c08a" stroke="#50905a" stroke-width="0.9"/>
<rect x="833.40" y="343.10" width="7.1" height="23" fill="#82c08a" stroke="#50905a" stroke-width="0.9"/>
<rect x="842.60" y="343.10" width="7.1" height="23" fill="#82c08a" stroke="#50905a" stroke-width="0.9"/>
<path d="M57.30 88.40H59.40M128.50 88.40H130.60M199.70 88.40H201.80M270.90 88.40H273.00M342.10 88.40H344.20M413.30 88.40H415.40M484.50 88.40H486.60M555.70 88.40H557.80M626.90 88.40H629.00M698.10 88.40H700.20M769.30 88.40H771.40M840.50 88.40H842.60M57.30 221.90H59.40M128.50 221.90H130.60M199.70 221.90H201.80M270.90 221.90H273.00M342.10 221.90H344.20M413.30 221.90H415.40M484.50 221.90H486.60M555.70 221.90H557.80M626.90 221.90H629.00M698.10 221.90H700.20M769.30 221.90H771.40M840.50 221.90H842.60M57.30 355.00H59.40M128.50 355.00H130.60M199.70 355.00H201.80M270.90 355.00H273.00M342.10 355.00H344.20M413.30 355.00H415.40M484.50 355.00H486.60M555.70 355.00H557.80M626.90 355.00H629.00M698.10 355.00H700.20M769.30 355.00H771.40M840.50 355.00H842.60" stroke="#222" stroke-width="1.2"/>
</g>
<path d="M786.4 71.5L949.8 120.8L949.8 304.2L762.8 304.2L751.8 104.9L786.4 104.9Z" fill="#000" opacity="0.45"/>
<rect x="752.6" y="72.3" width="33" height="31.8" fill="none" stroke="#fff" stroke-width="1.8"/>
<rect x="762.8" y="120.8" width="187" height="183.4" fill="url(#frame)"/>
<rect x="772.5" y="130.5" width="166.5" height="165.5" fill="url(#insetbg)"/>
<rect x="772.5" y="130.5" width="166.5" height="165.5" fill="url(#insetv)"/>
<rect x="814.4" y="149" width="32.7" height="127.8" fill="url(#gl)"/>
<rect x="864.2" y="149" width="32.6" height="127.8" fill="url(#gr)"/>
<path d="M764 212.9H797" stroke="#e07070" stroke-width="2.8"/><rect x="797" y="210.2" width="13.6" height="5.4" fill="#d95050"/>
<path d="M847.5 212.9H864" stroke="#aaa" stroke-width="0.8" stroke-dasharray="4 3"/>
<rect x="763.7" y="121.1" width="184.6" height="182.3" fill="none" stroke="#000" stroke-width="2.0"/>
<text x="3.17" y="24.60" font-size="34.4" fill="#000" >(a)</text>
<rect x="108" y="567.7" width="820" height="619.5999999999999" fill="#fff"/>
<path d="M189.60 567.7V1187.3 M271.60 567.7V1187.3 M353.60 567.7V1187.3 M435.60 567.7V1187.3 M517.60 567.7V1187.3 M599.60 567.7V1187.3 M681.60 567.7V1187.3 M763.60 567.7V1187.3 M845.60 567.7V1187.3 M108 656.21H928 M108 744.72H928 M108 833.23H928 M108 921.74H928 M108 1010.25H928 M108 1098.76H928" stroke="#262626" stroke-opacity="0.15" stroke-width="2.2" fill="none"/>
<rect x="613" y="669.5" width="313" height="135.2" fill="#fff"/>
<path d="M107.60 1187.3v-10M107.60 567.7v10 M189.60 1187.3v-10M189.60 567.7v10 M271.60 1187.3v-10M271.60 567.7v10 M353.60 1187.3v-10M353.60 567.7v10 M435.60 1187.3v-10M435.60 567.7v10 M517.60 1187.3v-10M517.60 567.7v10 M599.60 1187.3v-10M599.60 567.7v10 M681.60 1187.3v-10M681.60 567.7v10 M763.60 1187.3v-10M763.60 567.7v10 M845.60 1187.3v-10M845.60 567.7v10 M927.60 1187.3v-10M927.60 567.7v10 M108 567.70h10M928 567.70h-10 M108 656.21h10M928 656.21h-10 M108 744.72h10M928 744.72h-10 M108 833.23h10M928 833.23h-10 M108 921.74h10M928 921.74h-10 M108 1010.25h10M928 1010.25h-10 M108 1098.76h10M928 1098.76h-10 M108 1187.27h10M928 1187.27h-10" stroke="#262626" stroke-width="2.4" fill="none"/>
<polyline points="189.60,567.70 201.90,578.93 214.20,590.10 226.50,601.19 238.80,612.22 251.10,623.17 263.40,634.07 275.70,644.89 288.00,655.65 300.30,666.34 312.60,676.97 324.90,687.53 337.20,698.03 349.50,708.47 361.80,718.85 374.10,729.16 386.40,739.42 398.70,749.61 411.00,759.74 423.30,769.82 435.60,779.84 447.90,789.79 460.20,799.69 472.50,809.54 484.80,819.33 497.10,829.06 509.40,838.73 521.70,848.36 534.00,857.92 546.30,867.44 558.60,876.90 570.90,886.31 583.20,895.66 595.50,904.96 607.80,914.22 620.10,923.42 632.40,932.57 644.70,941.67 657.00,950.72 669.30,959.73 681.60,968.68 693.90,977.59 706.20,986.45 718.50,995.26 730.80,1004.02 743.10,1012.74 755.40,1021.41 767.70,1030.04 780.00,1038.62 792.30,1047.15 804.60,1055.65 816.90,1064.09 829.20,1072.50 841.50,1080.86 853.80,1089.18 866.10,1097.45 878.40,1105.68 890.70,1113.87 903.00,1122.02 915.30,1130.13 927.60,1138.20" stroke="#000" stroke-width="4.0" fill="none" stroke-linejoin="round"/>
<path d="M249.4 626.3h18M258.4 617.3v18 M299.9 678.1h18M308.9 669.1v18 M307.7 677.5h18M316.7 668.5v18 M313.5 685.4h18M322.5 676.4v18 M351.6 728.8h18M360.6 719.8v18 M372.9 728.8h18M381.9 719.8v18 M391.1 730.7h18M400.1 721.7v18 M362.2 746.4h18M371.2 737.4v18 M402.4 770.1h18M411.4 761.1v18 M421.6 757.7h18M430.6 748.7v18 M426.6 762.2h18M435.6 753.2v18 M432.3 783.2h18M441.3 774.2v18 M452.1 784.2h18M461.1 775.2v18 M455.5 792.3h18M464.5 783.3v18 M435.8 807.3h18M444.8 798.3v18 M483.6 832.6h18M492.6 823.6v18 M491.5 849.4h18M500.5 840.4v18 M523.1 855.7h18M532.1 846.7v18 M547.3 857.2h18M556.3 848.2v18 M532.6 887.9h18M541.6 878.9v18 M577.1 898.4h18M586.1 889.4v18 M655.1 950.5h18M664.1 941.5v18 M650.9 955.1h18M659.9 946.1v18 M653.0 956.4h18M662.0 947.4v18 M657.9 958.9h18M666.9 949.9v18 M657.9 982.0h18M666.9 973.0v18 M675.1 976.1h18M684.1 967.1v18 M707.7 995.1h18M716.7 986.1v18 M743.5 995.1h18M752.5 986.1v18 M827.0 1080.0h18M836.0 1071.0v18" stroke="#000" stroke-width="2" fill="none"/>
<circle cx="469" cy="829.4" r="9.3" stroke="#f00" stroke-width="2" fill="none"/>
<circle cx="497.8" cy="804.2" r="9.3" stroke="#f00" stroke-width="2" fill="none"/>
<circle cx="498.8" cy="806" r="9.3" stroke="#f00" stroke-width="2" fill="none"/>
<circle cx="491.1" cy="822" r="9.3" stroke="#f00" stroke-width="2" fill="none"/>
<circle cx="494.7" cy="828.3" r="9.3" stroke="#f00" stroke-width="2" fill="none"/>
<circle cx="507.3" cy="822" r="9.3" stroke="#f00" stroke-width="2" fill="none"/>
<circle cx="511.5" cy="818.9" r="9.3" stroke="#f00" stroke-width="2" fill="none"/>
<circle cx="526.2" cy="824.1" r="9.3" stroke="#f00" stroke-width="2" fill="none"/>
<circle cx="529.4" cy="832.6" r="9.3" stroke="#f00" stroke-width="2" fill="none"/>
<circle cx="524.1" cy="838.9" r="9.3" stroke="#f00" stroke-width="2" fill="none"/>
<circle cx="517.8" cy="843.1" r="9.3" stroke="#f00" stroke-width="2" fill="none"/>
<circle cx="510.4" cy="832.6" r="9.3" stroke="#f00" stroke-width="2" fill="none"/>
<circle cx="552.5" cy="852.5" r="9.3" stroke="#f00" stroke-width="2" fill="none"/>
<circle cx="540.9" cy="867.7" r="9.3" stroke="#f00" stroke-width="2" fill="none"/>
<circle cx="805.4" cy="1072.7" r="9.3" stroke="#f00" stroke-width="2" fill="none"/>
<circle cx="809.7" cy="1071.2" r="9.3" stroke="#f00" stroke-width="2" fill="none"/>
<circle cx="819.1" cy="1071.2" r="9.3" stroke="#f00" stroke-width="2" fill="none"/>
<circle cx="828.2" cy="1057" r="9.3" stroke="#f00" stroke-width="2" fill="none"/>
<circle cx="825.3" cy="1067" r="9.3" stroke="#f00" stroke-width="2" fill="none"/>
<circle cx="836.2" cy="1062.7" r="9.3" stroke="#f00" stroke-width="2" fill="none"/>
<circle cx="850.4" cy="1065.5" r="9.3" stroke="#f00" stroke-width="2" fill="none"/>
<circle cx="839.6" cy="1072.7" r="9.3" stroke="#f00" stroke-width="2" fill="none"/>
<circle cx="848.1" cy="1075.5" r="9.3" stroke="#f00" stroke-width="2" fill="none"/>
<circle cx="853.8" cy="1075.5" r="9.3" stroke="#f00" stroke-width="2" fill="none"/>
<circle cx="861" cy="1077" r="9.3" stroke="#f00" stroke-width="2" fill="none"/>
<circle cx="869.5" cy="1078.4" r="9.3" stroke="#f00" stroke-width="2" fill="none"/>
<circle cx="876.6" cy="1084.6" r="9.3" stroke="#f00" stroke-width="2" fill="none"/>
<circle cx="856.1" cy="1086.9" r="9.3" stroke="#f00" stroke-width="2" fill="none"/>
<rect x="108" y="567.7" width="820" height="619.5999999999999" stroke="#262626" stroke-width="2.2" fill="none"/>
<text x="83.42" y="1230.20" font-size="34.5" fill="#262626" >7.0</text>
<text x="165.61" y="1230.20" font-size="34.5" fill="#262626" >7.2</text>
<text x="247.24" y="1230.20" font-size="34.5" fill="#262626" >7.4</text>
<text x="329.50" y="1230.20" font-size="34.5" fill="#262626" >7.6</text>
<text x="411.48" y="1230.20" font-size="34.5" fill="#262626" >7.8</text>
<text x="508.01" y="1230.20" font-size="34.5" fill="#262626" >8</text>
<text x="575.74" y="1230.20" font-size="34.5" fill="#262626" >8.2</text>
<text x="657.38" y="1230.20" font-size="34.5" fill="#262626" >8.4</text>
<text x="739.64" y="1230.20" font-size="34.5" fill="#262626" >8.6</text>
<text x="821.62" y="1230.20" font-size="34.5" fill="#262626" >8.8</text>
<text x="903.48" y="1230.20" font-size="34.5" fill="#262626" >9.0</text>
<text x="48.39" y="579.60" font-size="34.5" fill="#262626" >6.0</text>
<text x="48.67" y="668.11" font-size="34.5" fill="#262626" >5.9</text>
<text x="48.53" y="756.62" font-size="34.5" fill="#262626" >5.8</text>
<text x="48.77" y="845.13" font-size="34.5" fill="#262626" >5.7</text>
<text x="48.56" y="933.64" font-size="34.5" fill="#262626" >5.6</text>
<text x="48.49" y="1022.15" font-size="34.5" fill="#262626" >5.5</text>
<text x="48.05" y="1110.66" font-size="34.5" fill="#262626" >5.4</text>
<text x="48.56" y="1191.37" font-size="34.5" fill="#262626" >5.3</text>
<text x="458.08" y="1275.10" font-size="39.5" fill="#262626" font-style="italic" >R</text>
<text x="482.22" y="1292.30" font-size="30" fill="#262626" >n</text>
<text x="509.68" y="1276.20" font-size="39" fill="#262626" >(</text>
<text x="521.59" y="1276.20" font-size="39" fill="#262626" >k</text>
<text x="538.27" y="1276.20" font-size="39" fill="#262626" style="font-family:&quot;Liberation Serif&quot;,serif" >Ω</text>
<text x="567.87" y="1276.20" font-size="39" fill="#262626" >)</text>
<g transform="translate(34.5,959.9) rotate(-90)"><text x="-1.33" y="0.00" font-size="39" fill="#262626" font-style="italic" >f</text><text x="18.48" y="0.00" font-size="39" fill="#262626" >(GHz)</text></g>
<rect x="674.7" y="576.2" width="197.3" height="80.4" fill="#fff" stroke="#262626" stroke-width="2.2"/>
<path d="M701.5 599.2h20M711.5 589.2v20" stroke="#000" stroke-width="2" fill="none"/>
<circle cx="711" cy="635.1" r="9.7" stroke="#f00" stroke-width="2" fill="none"/>
<text x="743.76" y="608.00" font-size="31" fill="#000" >Pre-tune</text>
<text x="744.93" y="644.80" font-size="31" fill="#000" >tuned</text>
<text x="674.50" y="713.80" font-size="39" fill="#000" >Fit Line:</text>
<text x="677.87" y="761.10" font-size="39" fill="#000" font-style="italic" >f</text>
<text x="695.49" y="761.10" font-size="39" fill="#000" >=</text>
<text x="728.44" y="761.10" font-size="39" fill="#000" >16.4</text>
<text x="815.39" y="761.10" font-size="39" fill="#000" font-style="italic" >R</text>
<text x="841.02" y="777.30" font-size="30" fill="#000" >n</text>
<text x="841.60" y="739.50" font-size="29.5" fill="#000" >-0.51</text>
<rect x="126.4" y="882.4" width="380.2" height="285.9" fill="#fff" stroke="#262626" stroke-width="2"/>
<rect x="266.95" y="1001.96" width="28.45" height="65.04" fill="#808080" stroke="#e6e6e6" stroke-width="0.8"/>
<rect x="295.40" y="1018.22" width="28.45" height="48.78" fill="#808080" stroke="#e6e6e6" stroke-width="0.8"/>
<rect x="323.85" y="936.92" width="28.45" height="130.08" fill="#808080" stroke="#e6e6e6" stroke-width="0.8"/>
<rect x="352.30" y="920.66" width="28.45" height="146.34" fill="#808080" stroke="#e6e6e6" stroke-width="0.8"/>
<rect x="380.75" y="1018.22" width="28.45" height="48.78" fill="#808080" stroke="#e6e6e6" stroke-width="0.8"/>
<rect x="409.20" y="1001.96" width="28.45" height="65.04" fill="#808080" stroke="#e6e6e6" stroke-width="0.8"/>
<rect x="232.9" y="904.4" width="239.20000000000002" height="162.60000000000002" stroke="#262626" stroke-width="1.3" fill="none"/>
<path d="M238.50 1067v-5M238.50 904.4v5 M295.40 1067v-5M295.40 904.4v5 M352.30 1067v-5M352.30 904.4v5 M409.20 1067v-5M409.20 904.4v5 M466.10 1067v-5M466.10 904.4v5 M232.9 1067.00h5M472.1 1067.00h-5 M232.9 985.70h5M472.1 985.70h-5 M232.9 904.40h5M472.1 904.40h-5" stroke="#262626" stroke-width="1.3" fill="none"/>
<text x="218.42" y="1100.30" font-size="27.7" fill="#262626" >-40</text>
<text x="275.32" y="1100.30" font-size="27.7" fill="#262626" >-20</text>
<text x="344.60" y="1100.30" font-size="27.7" fill="#262626" >0</text>
<text x="393.65" y="1100.30" font-size="27.7" fill="#262626" >20</text>
<text x="450.92" y="1100.30" font-size="27.7" fill="#262626" >40</text>
<text x="211.48" y="1077.00" font-size="27.7" fill="#262626" >0</text>
<text x="211.56" y="995.50" font-size="27.7" fill="#262626" >5</text>
<text x="196.08" y="914.50" font-size="27.7" fill="#262626" >10</text>
<text x="135.51" y="1140.40" font-size="30.4" fill="#262626" >Residual from fit line (MHz)</text>
<g transform="translate(163,1066.4) rotate(-90)"><text x="-2.01" y="0.00" font-size="30.4" fill="#262626" >number of</text></g>
<g transform="translate(199.2,1040.4) rotate(-90)"><text x="-1.28" y="0.00" font-size="30.4" fill="#262626" >qubits</text></g>
<text x="2.92" y="552.20" font-size="34.4" fill="#000" >(b)</text>
<rect x="107.5" y="1323.7" width="820.5" height="591.8" fill="#e2ede3"/>
<rect x="230.0" y="1853.20" width="82.40" height="62.30" fill="#e8c0b8" stroke="#000" stroke-width="1.8"/>
<rect x="312.4" y="1666.30" width="82.00" height="249.20" fill="#e8c0b8" stroke="#000" stroke-width="1.8"/>
<rect x="394.4" y="1604.00" width="82.00" height="311.50" fill="#e8c0b8" stroke="#000" stroke-width="1.8"/>
<rect x="476.4" y="1604.00" width="82.30" height="311.50" fill="#e8c0b8" stroke="#000" stroke-width="1.8"/>
<rect x="558.7" y="1728.60" width="82.10" height="186.90" fill="#e8c0b8" stroke="#000" stroke-width="1.8"/>
<rect x="640.8" y="1354.80" width="81.70" height="560.70" fill="#e8c0b8" stroke="#000" stroke-width="1.8"/>
<rect x="722.5" y="1728.60" width="82.00" height="186.90" fill="#e8c0b8" stroke="#000" stroke-width="1.8"/>
<rect x="804.5" y="1853.20" width="70.20" height="62.30" fill="#e8c0b8" stroke="#000" stroke-width="1.8"/>
<rect x="230.72" y="1853.20" width="11.73" height="62.30" fill="#000" stroke="#c8c8c8" stroke-width="0.8"/>
<rect x="242.45" y="1728.60" width="11.73" height="186.90" fill="#000" stroke="#c8c8c8" stroke-width="0.8"/>
<rect x="254.19" y="1479.40" width="11.74" height="436.10" fill="#000" stroke="#c8c8c8" stroke-width="0.8"/>
<rect x="265.92" y="1728.60" width="11.73" height="186.90" fill="#000" stroke="#c8c8c8" stroke-width="0.8"/>
<rect x="277.66" y="1853.20" width="11.73" height="62.30" fill="#000" stroke="#c8c8c8" stroke-width="0.8"/>
<rect x="524.09" y="1853.20" width="11.73" height="62.30" fill="#000" stroke="#c8c8c8" stroke-width="0.8"/>
<rect x="547.56" y="1853.20" width="11.74" height="62.30" fill="#000" stroke="#c8c8c8" stroke-width="0.8"/>
<rect x="559.30" y="1790.90" width="11.73" height="124.60" fill="#000" stroke="#c8c8c8" stroke-width="0.8"/>
<rect x="571.03" y="1666.30" width="11.73" height="249.20" fill="#000" stroke="#c8c8c8" stroke-width="0.8"/>
<rect x="582.77" y="1541.70" width="11.73" height="373.80" fill="#000" stroke="#c8c8c8" stroke-width="0.8"/>
<rect x="606.24" y="1790.90" width="11.73" height="124.60" fill="#000" stroke="#c8c8c8" stroke-width="0.8"/>
<polyline points="223.00,1913.79 223.61,1913.44 224.22,1913.03 224.82,1912.55 225.43,1911.99 226.04,1911.33 226.65,1910.57 227.26,1909.68 227.87,1908.65 228.47,1907.47 229.08,1906.11 229.69,1904.56 230.30,1902.78 230.91,1900.77 231.52,1898.49 232.12,1895.92 232.73,1893.04 233.34,1889.80 233.95,1886.20 234.56,1882.19 235.17,1877.75 235.78,1872.85 236.38,1867.46 236.99,1861.56 237.60,1855.13 238.21,1848.14 238.82,1840.58 239.43,1832.42 240.03,1823.67 240.64,1814.30 241.25,1804.33 241.86,1793.76 242.47,1782.59 243.07,1770.85 243.68,1758.57 244.29,1745.77 244.90,1732.50 245.51,1718.80 246.12,1704.74 246.72,1690.37 247.33,1675.77 247.94,1661.02 248.55,1646.20 249.16,1631.41 249.77,1616.73 250.38,1602.27 250.98,1588.14 251.59,1574.43 252.20,1561.25 252.81,1548.71 253.42,1536.90 254.03,1525.93 254.63,1515.89 255.24,1506.86 255.85,1498.93 256.46,1492.16 257.07,1486.63 257.68,1482.37 258.28,1479.43 258.89,1477.84 259.50,1477.60 260.11,1478.73 260.72,1481.21 261.32,1485.02 261.93,1490.13 262.54,1496.48 263.15,1504.02 263.76,1512.68 264.37,1522.38 264.98,1533.04 265.58,1544.58 266.19,1556.88 266.80,1569.85 267.41,1583.39 268.02,1597.39 268.62,1611.75 269.23,1626.36 269.84,1641.13 270.45,1655.95 271.06,1670.73 271.67,1685.39 272.27,1699.85 272.88,1714.02 273.49,1727.85 274.10,1741.28 274.71,1754.24 275.32,1766.71 275.93,1778.64 276.53,1790.00 277.14,1800.78 277.75,1810.96 278.36,1820.53 278.97,1829.49 279.57,1837.85 280.18,1845.62 280.79,1852.80 281.40,1859.42 282.01,1865.50 282.62,1871.06 283.23,1876.12 283.83,1880.72 284.44,1884.87 285.05,1888.61 285.66,1891.97 286.27,1894.97 286.88,1897.65 287.48,1900.02 288.09,1902.12 288.70,1903.97 289.31,1905.60 289.92,1907.02 290.52,1908.26 291.13,1909.34 291.74,1910.28 292.35,1911.08 292.96,1911.78 293.57,1912.37 294.18,1912.88 294.78,1913.31 295.39,1913.68 296.00,1913.99" stroke="#000" stroke-width="4.5" fill="none" stroke-linejoin="round"/>
<polyline points="517.30,1911.15 518.28,1910.61 519.25,1910.00 520.23,1909.33 521.21,1908.59 522.18,1907.78 523.16,1906.88 524.14,1905.90 525.11,1904.83 526.09,1903.66 527.07,1902.38 528.04,1901.00 529.02,1899.49 530.00,1897.87 530.97,1896.11 531.95,1894.22 532.93,1892.18 533.90,1889.99 534.88,1887.66 535.86,1885.16 536.83,1882.49 537.81,1879.66 538.79,1876.66 539.76,1873.48 540.74,1870.13 541.72,1866.60 542.69,1862.88 543.67,1858.99 544.65,1854.92 545.62,1850.68 546.60,1846.26 547.58,1841.68 548.55,1836.93 549.53,1832.04 550.51,1827.00 551.48,1821.82 552.46,1816.53 553.44,1811.12 554.41,1805.62 555.39,1800.04 556.37,1794.40 557.34,1788.71 558.32,1783.00 559.30,1777.28 560.27,1771.57 561.25,1765.90 562.23,1760.30 563.20,1754.77 564.18,1749.35 565.16,1744.06 566.13,1738.92 567.11,1733.96 568.09,1729.20 569.06,1724.66 570.04,1720.37 571.02,1716.34 571.99,1712.59 572.97,1709.16 573.95,1706.04 574.92,1703.27 575.90,1700.85 576.88,1698.80 577.85,1697.12 578.83,1695.83 579.81,1694.94 580.78,1694.44 581.76,1694.35 582.74,1694.66 583.71,1695.37 584.69,1696.47 585.67,1697.97 586.64,1699.84 587.62,1702.09 588.60,1704.70 589.57,1707.66 590.55,1710.95 591.53,1714.55 592.50,1718.45 593.48,1722.62 594.46,1727.05 595.43,1731.71 596.41,1736.58 597.39,1741.64 598.36,1746.86 599.34,1752.22 600.32,1757.70 601.29,1763.27 602.27,1768.92 603.25,1774.61 604.22,1780.32 605.20,1786.04 606.18,1791.74 607.15,1797.41 608.13,1803.02 609.11,1808.56 610.08,1814.01 611.06,1819.36 612.04,1824.59 613.01,1829.70 613.99,1834.66 614.97,1839.48 615.94,1844.14 616.92,1848.63 617.90,1852.96 618.87,1857.11 619.85,1861.08 620.83,1864.88 621.80,1868.50 622.78,1871.94 623.76,1875.20 624.73,1878.28 625.71,1881.19 626.69,1883.93 627.66,1886.51 628.64,1888.92 629.62,1891.18 630.59,1893.28 631.57,1895.24 632.55,1897.06 633.52,1898.75 634.50,1900.31" stroke="#000" stroke-width="4.5" fill="none" stroke-linejoin="round"/>
<rect x="107.5" y="1323.7" width="820.5" height="591.8" stroke="#262626" stroke-width="2.2" fill="none"/>
<path d="M224.85 1915.5v-9.3M224.85 1323.7v9.3 M342.20 1915.5v-9.3M342.20 1323.7v9.3 M459.55 1915.5v-9.3M459.55 1323.7v9.3 M576.90 1915.5v-9.3M576.90 1323.7v9.3 M694.25 1915.5v-9.3M694.25 1323.7v9.3 M811.60 1915.5v-9.3M811.60 1323.7v9.3 M107.5 1915.50h9.3M928 1915.50h-9.3 M107.5 1790.90h9.3M928 1790.90h-9.3 M107.5 1666.30h9.3M928 1666.30h-9.3 M107.5 1541.70h9.3M928 1541.70h-9.3 M107.5 1417.10h9.3M928 1417.10h-9.3" stroke="#262626" stroke-width="2.4" fill="none"/>
<text x="85.09" y="1955.20" font-size="34.5" fill="#262626" >5.3</text>
<text x="202.18" y="1955.20" font-size="34.5" fill="#262626" >5.4</text>
<text x="319.76" y="1955.20" font-size="34.5" fill="#262626" >5.5</text>
<text x="437.14" y="1955.20" font-size="34.5" fill="#262626" >5.6</text>
<text x="554.60" y="1955.20" font-size="34.5" fill="#262626" >5.7</text>
<text x="671.82" y="1955.20" font-size="34.5" fill="#262626" >5.8</text>
<text x="789.24" y="1955.20" font-size="34.5" fill="#262626" >5.9</text>
<text x="906.27" y="1955.20" font-size="34.5" fill="#262626" >6.0</text>
<text x="76.56" y="1919.90" font-size="34.5" fill="#262626" >0</text>
<text x="76.94" y="1800.80" font-size="34.5" fill="#262626" >2</text>
<text x="76.22" y="1676.20" font-size="34.5" fill="#262626" >4</text>
<text x="76.74" y="1551.60" font-size="34.5" fill="#262626" >6</text>
<text x="76.70" y="1427.00" font-size="34.5" fill="#262626" >8</text>
<text x="419.87" y="2003.60" font-size="39" fill="#262626" font-style="italic" >f</text>
<text x="439.88" y="2003.60" font-size="39" fill="#262626" >(GHz)</text>
<g transform="translate(34.6,1757.3) rotate(-90)"><text x="-2.61" y="0.00" font-size="39.5" fill="#262626" >number of qubits</text></g>
<text x="136.50" y="1372.80" font-size="34.2" fill="#000" >N = 15</text>
<text x="137.04" y="1416.00" font-size="34.2" fill="#000" >median:</text>
<text x="137.93" y="1460.20" font-size="34.2" fill="#000" >5.430 GHz</text>
<text x="429.50" y="1378.40" font-size="34.2" fill="#000" >N = 16</text>
<text x="430.04" y="1421.60" font-size="34.2" fill="#000" >median:</text>
<text x="430.93" y="1465.00" font-size="34.2" fill="#000" >5.7046 GHz</text>
<text x="731.77" y="1377.50" font-size="34.2" fill="#000" >Un-tuned</text>
<text x="731.60" y="1420.60" font-size="34.2" fill="#000" >N = 31</text>
<text x="732.14" y="1463.80" font-size="34.2" fill="#000" >median:</text>
<text x="733.03" y="1506.90" font-size="34.2" fill="#000" >5.7025 GHz</text>
<text x="0.37" y="1311.80" font-size="34.4" fill="#000" >(c)</text>
</svg>
</body></html>
